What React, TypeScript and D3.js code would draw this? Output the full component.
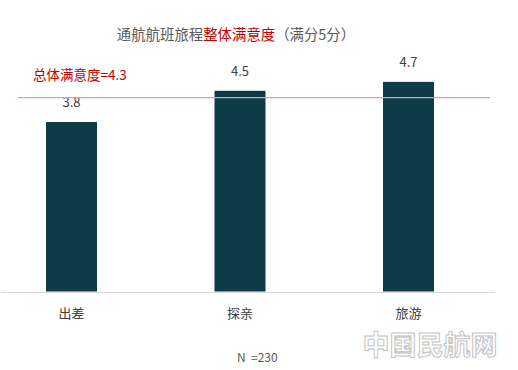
import React from "react";
import * as d3 from "d3";

const categories = ["出差", "探亲", "旅游"];
const values = [3.8, 4.5, 4.7];
const overall = 4.3;
const overallLabel = "总体满意度=4.3";
const titleGray = "通航航班旅程";
const titleRed = "整体满意度";
const titleTail = "（满分5分）";
const sampleN = "N";
const sampleValue = "=230";
const watermark = "中国民航网";

export default function App() {
  const W = 518, H = 370;
  const x = d3.scalePoint<string>().domain(categories).range([71.5, 408.5]);
  const y = d3.scaleLinear().domain([0, 5]).range([291.5, 68.5]);
  const bw = 51;
  const font = "'Noto Sans CJK SC', 'Noto Sans', sans-serif";
  return (
    <svg width={W} height={H} style={{ position: "absolute", left: 0, top: 0, background: "#fff" }} fontFamily={font}>
      <rect x={0} y={0} width={W} height={H} fill="#fff" />
      <text x={236} y={40} textAnchor="middle" fontSize={14.4} fill="#595959">
        {titleGray}
        <tspan fill="#c00000">{titleRed}</tspan>
        {titleTail}
      </text>
      <line x1={1} x2={495} y1={292.5} y2={292.5} stroke="#d9d9d9" strokeWidth={1} />
      {categories.map((c, i) => (
        <g key={c}>
          <rect x={(x(c) as number) - bw / 2} y={y(values[i])} width={bw} height={y(0) - y(values[i])} fill="#0d3b48" />
          <text x={x(c)} y={y(values[i]) - 15} textAnchor="middle" fontSize={13} fill="#404040">
            {values[i].toFixed(1)}
          </text>
          <text x={x(c)} y={318} textAnchor="middle" fontSize={13} fill="#404040">
            {c}
          </text>
        </g>
      ))}
      <line x1={18} x2={490} y1={y(overall) - 2} y2={y(overall) - 2} stroke="#d9a0a8" strokeWidth={1.2} />
      <text x={33} y={80} fontSize={13.5} fill="#c00000">{overallLabel}</text>
      <text x={237} y={362} fontSize={12} fill="#595959">{sampleN}</text>
      <text x={251} y={362} fontSize={12} fill="#595959">{sampleValue}</text>
      <text x={430} y={355} textAnchor="middle" fontSize={27} fontWeight="bold" fill="#fff" stroke="#c4c4c4" strokeWidth={1}>
        {watermark}
      </text>
    </svg>
  );
}
